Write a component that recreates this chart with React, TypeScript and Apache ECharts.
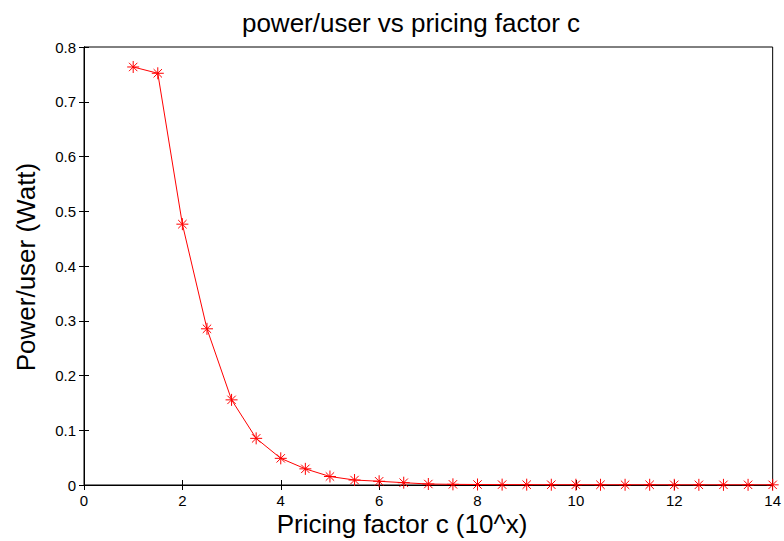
import React, { useEffect, useRef } from "react";
import * as echarts from "echarts";

const pricingFactor = [1, 1.5, 2, 2.5, 3, 3.5, 4, 4.5, 5, 5.5, 6, 6.5, 7, 7.5, 8, 8.5, 9, 9.5, 10, 10.5, 11, 11.5, 12, 12.5, 13, 13.5, 14];
const powerPerUser = [0.7635, 0.752, 0.4764, 0.2853, 0.1555, 0.0852, 0.0487, 0.0295, 0.0155, 0.0091, 0.0068, 0.0042, 0.0018, 0.0012, 0.0009, 0.0007, 0.0006, 0.0005, 0.0005, 0.0004, 0.0004, 0.0004, 0.0003, 0.0003, 0.0003, 0.0003, 0.0003];

const titleText = "power/user vs pricing factor c";
const xName = "Pricing factor c (10^x)";
const yName = "Power/user (Watt)";

const FONT = "'Liberation Sans', Arial, Helvetica, sans-serif";

export default function App() {
  const ref = useRef<HTMLDivElement>(null);
  useEffect(() => {
    if (!ref.current) return;
    const chart = echarts.init(ref.current, null, { renderer: "svg" });
    const asterisk = "path://M6,0L6,12M0,6L12,6M1.8,1.8L10.2,10.2M1.8,10.2L10.2,1.8";
    const tickStyle = { show: true, inside: true, length: 5, lineStyle: { color: "#000", width: 1 } };
    chart.setOption({
      animation: false,
      backgroundColor: "#fff",
      grid: {
        left: 84,
        top: 47,
        right: 8,
        bottom: 56,
        show: true,
        borderColor: "#000",
        borderWidth: 1,
        backgroundColor: "transparent",
      },
      graphic: [
        {
          type: "text",
          x: 411,
          y: 23,
          style: { text: titleText, font: `26px ${FONT}`, fill: "#000", align: "center", verticalAlign: "middle" },
        },
        {
          type: "text",
          x: 402,
          y: 524,
          style: { text: xName, font: `26px ${FONT}`, fill: "#000", align: "center", verticalAlign: "middle" },
        },
        {
          type: "text",
          x: 26,
          y: 267,
          rotation: Math.PI / 2,
          style: { text: yName, font: `26px ${FONT}`, fill: "#000", align: "center", verticalAlign: "middle" },
        },
      ],
      xAxis: [
        {
          type: "value",
          min: 0,
          max: 14,
          interval: 2,
          position: "bottom",
          axisLine: { show: true, lineStyle: { color: "#000", width: 1 } },
          axisTick: tickStyle,
          axisLabel: { color: "#000", fontSize: 15, fontFamily: FONT, margin: 8 },
          splitLine: { show: false },
        },
        {
          type: "value",
          min: 0,
          max: 14,
          interval: 2,
          position: "top",
          axisLine: { show: true, lineStyle: { color: "#000", width: 1 } },
          axisTick: tickStyle,
          axisLabel: { show: false },
          splitLine: { show: false },
        },
      ],
      yAxis: [
        {
          type: "value",
          min: 0,
          max: 0.8,
          interval: 0.1,
          position: "left",
          axisLine: { show: true, lineStyle: { color: "#000", width: 1 } },
          axisTick: tickStyle,
          axisLabel: { color: "#000", fontSize: 15, fontFamily: FONT, margin: 8 },
          splitLine: { show: false },
        },
        {
          type: "value",
          min: 0,
          max: 0.8,
          interval: 0.1,
          position: "right",
          axisLine: { show: true, lineStyle: { color: "#000", width: 1 } },
          axisTick: tickStyle,
          axisLabel: { show: false },
          splitLine: { show: false },
        },
      ],
      series: [
        {
          type: "line",
          xAxisIndex: 0,
          yAxisIndex: 0,
          data: pricingFactor.map((x, i) => [x, powerPerUser[i]]),
          lineStyle: { color: "#ff0000", width: 1 },
          itemStyle: { color: "#ff0000", borderColor: "#ff0000", borderWidth: 1 },
          symbol: asterisk,
          symbolSize: 12,
          showAllSymbol: true,
          smooth: false,
          z: 3,
        },
      ],
    });
    return () => chart.dispose();
  }, []);
  return <div ref={ref} style={{ width: 784, height: 541, position: "absolute", left: 0, top: 0 }} />;
}
